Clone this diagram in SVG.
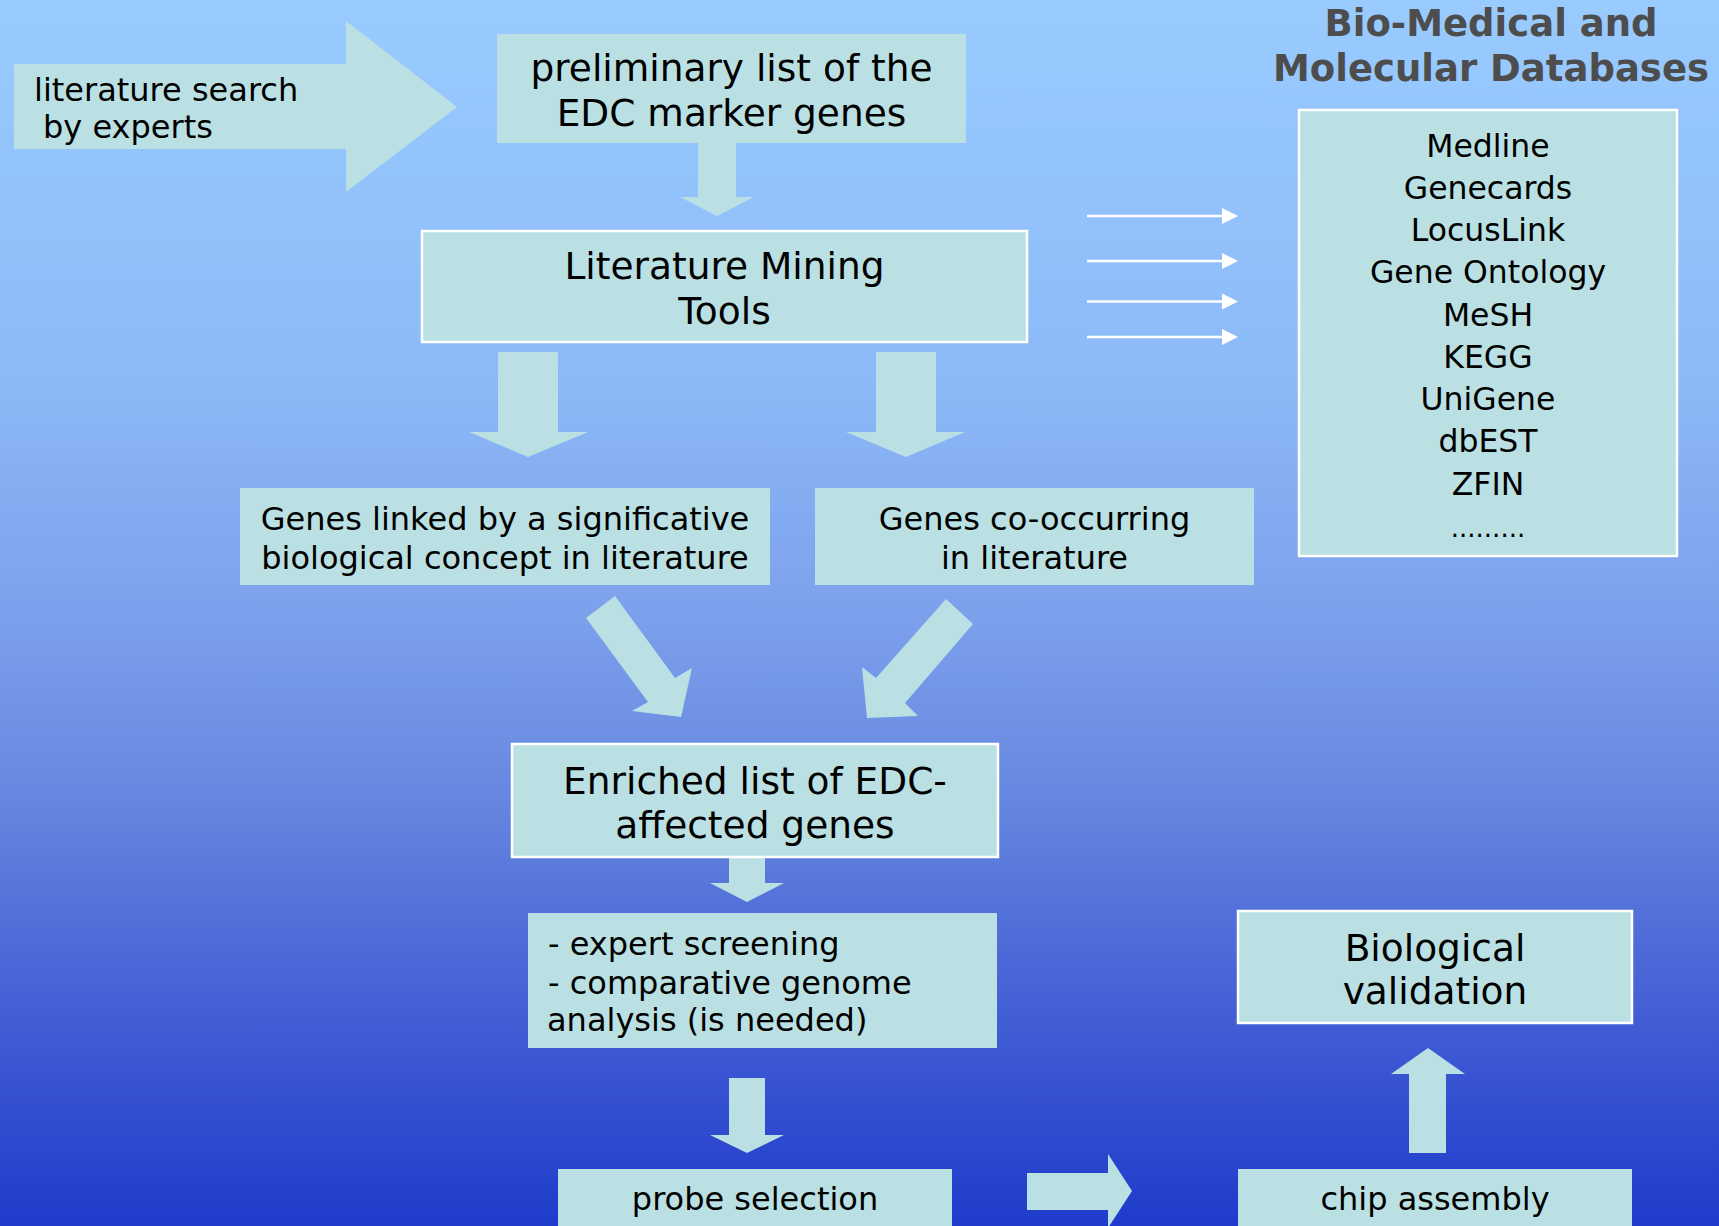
<svg xmlns="http://www.w3.org/2000/svg" width="1719" height="1226" viewBox="0 0 1719 1226">
<defs>
<linearGradient id="bg" x1="0" y1="0" x2="0" y2="1">
<stop offset="0" stop-color="#99CBFF"/>
<stop offset="0.3" stop-color="#8DBAF8"/>
<stop offset="0.5" stop-color="#7CA1EC"/>
<stop offset="0.65" stop-color="#6687E0"/>
<stop offset="0.8" stop-color="#4864D6"/>
<stop offset="1" stop-color="#1E3BCB"/>
</linearGradient>
<style>
.box{fill:#BAE0E3}
.bb{fill:#BAE0E3;stroke:#FFFFFF;stroke-width:2.5}
.arr{fill:#BAE0E3}
.t{font-family:"DejaVu Sans",sans-serif;fill:#000}
.c{text-anchor:middle}
.s32{font-size:32px}
.s37{font-size:37.5px}
.s30{font-size:31.5px}
.title{font-family:"DejaVu Sans",sans-serif;font-weight:bold;font-size:37px;fill:#4D4D4D;text-anchor:middle}
.wl{stroke:#FFFFFF;stroke-width:2.5;fill:none}
.wh{fill:#FFFFFF}
</style>
</defs>
<rect x="0" y="0" width="1719" height="1226" fill="url(#bg)"/>

<g id="connectors">
<polygon class="arr" points="698,143 736,143 736,197 754,197 717,216 680,197 698,197"/>
<polygon class="arr" points="498,352 558,352 558,432 588,432 528,457 469,432 498,432"/>
<polygon class="arr" points="876,352 936,352 936,432 965,432 906,457 846,432 876,432"/>
<polygon class="arr" points="615,596 675,678 692,668 681,717 632,711 648,702 586,618"/>
<polygon class="arr" points="946,599 973,624 905,703 918,716 867,718 862,667 876,678"/>
<polygon class="arr" points="729,857 765,857 765,883 784,883 747,902 710,883 729,883"/>
<polygon class="arr" points="729,1078 765,1078 765,1135 784,1135 747,1153 710,1135 729,1135"/>
<polygon class="arr" points="1027,1173 1108,1173 1108,1154 1132,1191 1108,1228 1108,1210 1027,1210"/>
<polygon class="arr" points="1409,1153 1409,1074 1391,1074 1428,1048 1465,1074 1446,1074 1446,1153"/>
<line class="wl" x1="1087" y1="216" x2="1226" y2="216"/>
<polygon class="wh" points="1222,208 1238,216 1222,224"/>
<line class="wl" x1="1087" y1="261" x2="1226" y2="261"/>
<polygon class="wh" points="1222,253 1238,261 1222,269"/>
<line class="wl" x1="1087" y1="301.5" x2="1226" y2="301.5"/>
<polygon class="wh" points="1222,293.5 1238,301.5 1222,309.5"/>
<line class="wl" x1="1087" y1="337" x2="1226" y2="337"/>
<polygon class="wh" points="1222,329 1238,337 1222,345"/>
</g>

<g id="literature-search">
<polygon class="arr" points="14,64 346,64 346,21 457,107 346,192 346,149 14,149"/>
<text class="t s32" x="34" y="101">literature search</text>
<text class="t s32" x="43" y="138">by experts</text>
</g>

<g id="preliminary">
<rect class="box" x="497" y="34" width="469" height="109"/>
<text class="t s37 c" x="731.5" y="81">preliminary list of the</text>
<text class="t s37 c" x="731.5" y="126">EDC marker genes</text>
</g>

<g id="mining-tools">
<rect class="bb" x="422" y="231" width="605" height="111"/>
<text class="t s37 c" x="724.5" y="279">Literature Mining</text>
<text class="t s37 c" x="724.5" y="324">Tools</text>
</g>

<g id="genes-linked">
<rect class="box" x="240" y="488" width="530" height="97"/>
<text class="t s32 c" x="505" y="530">Genes linked by a significative</text>
<text class="t s32 c" x="505" y="569">biological concept in literature</text>
</g>

<g id="genes-cooccurring">
<rect class="box" x="815" y="488" width="439" height="97"/>
<text class="t s32 c" x="1034.5" y="530">Genes co-occurring</text>
<text class="t s32 c" x="1034.5" y="569">in literature</text>
</g>

<g id="enriched">
<rect class="bb" x="512" y="744" width="486" height="113"/>
<text class="t s37 c" x="755" y="794">Enriched list of EDC-</text>
<text class="t s37 c" x="755" y="838">affected genes</text>
</g>

<g id="screening">
<rect class="box" x="528" y="913" width="469" height="135"/>
<text class="t s32" x="548" y="955">- expert screening</text>
<text class="t s32" x="548" y="994">- comparative genome</text>
<text class="t s32" x="547" y="1031">analysis (is needed)</text>
</g>

<g id="probe">
<rect class="box" x="558" y="1169" width="394" height="70"/>
<text class="t s32 c" x="755" y="1210">probe selection</text>
</g>

<g id="validation">
<rect class="bb" x="1238" y="911" width="394" height="112"/>
<text class="t s37 c" x="1435" y="961">Biological</text>
<text class="t s37 c" x="1435" y="1004">validation</text>
</g>

<g id="chip">
<rect class="box" x="1238" y="1169" width="394" height="70"/>
<text class="t s32 c" x="1435" y="1210">chip assembly</text>
</g>

<g id="databases">
<text class="title" x="1491" y="36">Bio-Medical and</text>
<text class="title" x="1491" y="80.5">Molecular Databases</text>
<rect class="bb" x="1299" y="110" width="378" height="446"/>
<text class="t s30 c" x="1488" y="157">Medline</text>
<text class="t s30 c" x="1488" y="199">Genecards</text>
<text class="t s30 c" x="1488" y="241">LocusLink</text>
<text class="t s30 c" x="1488" y="283">Gene Ontology</text>
<text class="t s30 c" x="1488" y="326">MeSH</text>
<text class="t s30 c" x="1488" y="368">KEGG</text>
<text class="t s30 c" x="1488" y="410">UniGene</text>
<text class="t s30 c" x="1488" y="452">dbEST</text>
<text class="t s30 c" x="1488" y="495">ZFIN</text>
<text class="t c" x="1488" y="537" style="font-size:26px">.........</text>
</g>
</svg>
